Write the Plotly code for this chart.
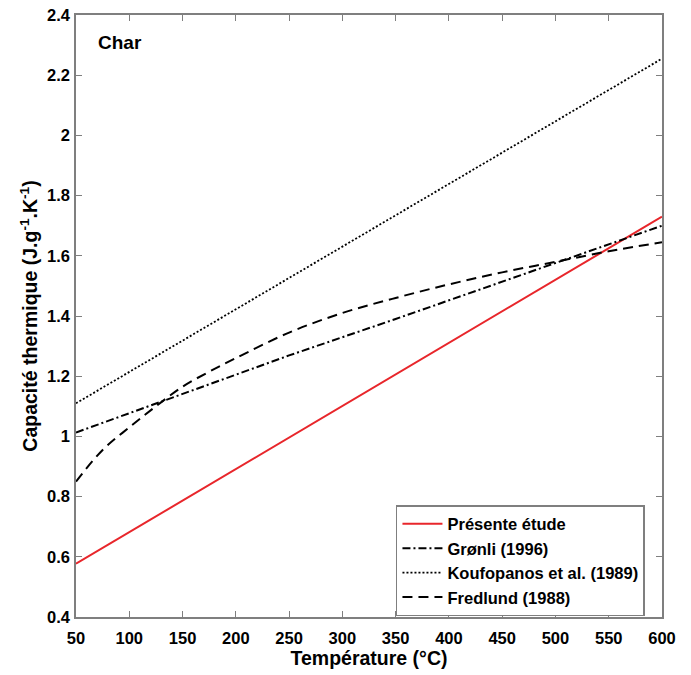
import plotly.graph_objects as go

T_lin = [50, 600]
presente = [0.577, 1.73]
koufopanos = [1.11, 2.255]

T_gronli = [50, 150, 250, 350, 450, 600]
gronli = [1.013, 1.141, 1.269, 1.39, 1.515, 1.70]

T_fred = [50, 75, 100, 125, 150, 175, 200, 250, 300, 350, 400, 450, 500, 550, 600]
fredlund = [0.85, 0.955, 1.03, 1.10, 1.165, 1.215, 1.26, 1.345, 1.41, 1.46,
            1.505, 1.545, 1.58, 1.615, 1.645]

FONT = "Liberation Sans, Arial, sans-serif"

fig = go.Figure()
fig.add_trace(go.Scatter(x=T_lin, y=presente, mode="lines", name="Présente étude",
                         line=dict(color="#e8262b", width=2)))
fig.add_trace(go.Scatter(x=T_gronli, y=gronli, mode="lines", name="Grønli (1996)",
                         line=dict(color="black", width=2, dash="8px,3px,2px,3px")))
fig.add_trace(go.Scatter(x=T_lin, y=koufopanos, mode="lines", name="Koufopanos et al. (1989)",
                         line=dict(color="black", width=1.8, dash="2px,2px")))
fig.add_trace(go.Scatter(x=T_fred, y=fredlund, mode="lines", name="Fredlund (1988)",
                         line=dict(color="black", width=2, dash="10px,6px", shape="spline")))

axis_common = dict(showline=True, linecolor="#7f7f7f", linewidth=1.5, mirror="ticks",
                   ticks="inside", ticklen=6, tickcolor="#7f7f7f", tickwidth=1,
                   showgrid=False, zeroline=False, ticklabeloverflow="allow",
                   automargin=False,
                   tickfont=dict(family=FONT, size=16.5, color="black", weight="bold"))

fig.update_xaxes(range=[50, 600], dtick=50, tick0=50, ticklabelstandoff=5,
                 title=dict(text="Température (°C)", standoff=2,
                            font=dict(family=FONT, size=19.5, color="black", weight="bold")),
                 **axis_common)
fig.update_yaxes(range=[0.4, 2.4], dtick=0.2, tick0=0.4, ticklabelstandoff=1,
                 title=dict(text="Capacité thermique (J.g<sup>-1</sup>.K<sup>-1</sup>)", standoff=4,
                            font=dict(family=FONT, size=19.5, color="black", weight="bold")),
                 **axis_common)

fig.add_annotation(text="Char", x=0.034, y=0.955, xref="paper", yref="paper",
                   xanchor="left", yanchor="middle", showarrow=False,
                   font=dict(family=FONT, size=19, color="black", weight="bold"))

fig.update_layout(
    width=691, height=675,
    margin=dict(l=68, r=37, t=7, b=66),
    plot_bgcolor="white", paper_bgcolor="white",
    legend=dict(x=0.546, y=0.186, xanchor="left", yanchor="top",
                bgcolor="white", bordercolor="#7f7f7f", borderwidth=1.5,
                font=dict(family=FONT, size=16.5, color="black", weight="bold"),
                tracegroupgap=0, itemwidth=40),
)

fig.write_html("out.html")
